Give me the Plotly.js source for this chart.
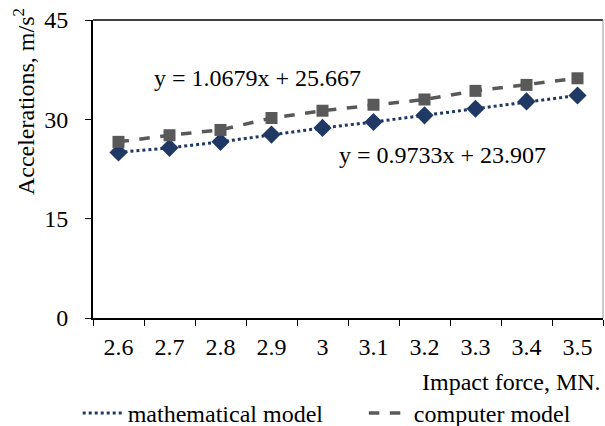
<!DOCTYPE html>
<html>
<head>
<meta charset="utf-8">
<script src="https://cdn.plot.ly/plotly-3.0.1.min.js"></script>
<style>html,body{margin:0;padding:0;background:#fff;}#chart{width:605px;height:426px;}</style>
</head>
<body>
<div id="chart"></div>
<script>
const categories = ['2.6','2.7','2.8','2.9','3','3.1','3.2','3.3','3.4','3.5'];
const mathematicalModel = [25.0, 25.7, 26.6, 27.7, 28.7, 29.6, 30.6, 31.6, 32.7, 33.6];
const computerModel = [26.6, 27.6, 28.4, 30.2, 31.3, 32.2, 33.0, 34.3, 35.2, 36.2];
const yTicks = [0, 15, 30, 45];
const seriesNames = ['mathematical model', 'computer model'];
const trendTexts = ['y = 1.0679x + 25.667', 'y = 0.9733x + 23.907'];
const xTitle = 'Impact force, MN.';
const yTitle = 'Accelerations, m/s<sup>2</sup>';

const FONT = 'Liberation Serif';
const FS = 24;
const NAVY = '#1f3864';
const GREY = '#595959';
const f = () => ({family: FONT, size: FS, color: '#000'});

const data = [
  {x: categories, y: mathematicalModel, type: 'scatter', mode: 'lines+markers', showlegend: false,
   line: {color: NAVY, width: 3, dash: 'dot'}, marker: {symbol: 'diamond', size: 14, color: NAVY}},
  {x: categories, y: computerModel, type: 'scatter', mode: 'lines+markers', showlegend: false,
   line: {color: GREY, width: 3.5, dash: 'dash'}, marker: {symbol: 'square', size: 12, color: GREY}},
  {x: [null], y: [null], type: 'scatter', mode: 'lines', name: seriesNames[0], legend: 'legend',
   line: {color: NAVY, width: 3, dash: 'dot'}},
  {x: [null], y: [null], type: 'scatter', mode: 'lines', name: seriesNames[1], legend: 'legend2',
   line: {color: GREY, width: 3.5, dash: 'dash'}}
];

const legendBase = {orientation: 'h', xanchor: 'left', y: -0.32, yanchor: 'middle',
  font: f(), itemwidth: 40, bgcolor: 'rgba(0,0,0,0)'};

const layout = {
  width: 605, height: 426,
  margin: {l: 93, r: 2, t: 20, b: 108, autoexpand: false},
  paper_bgcolor: '#fff', plot_bgcolor: '#fff',
  font: f(),
  xaxis: {
    type: 'category', range: [-0.5, 9.5], tickson: 'boundaries',
    ticks: 'outside', ticklen: 6, tickcolor: '#000', tickwidth: 1,
    showline: true, linecolor: '#000', linewidth: 2, showgrid: false, zeroline: false,
    tickfont: f(), ticklabelstandoff: 6
  },
  yaxis: {
    range: [0, 45], tickvals: yTicks, ticktext: yTicks.map(v => v + '\u00a0\u00a0'),
    ticks: 'outside', ticklen: 6, tickcolor: '#000', tickwidth: 1,
    showline: true, linecolor: '#000', linewidth: 2, showgrid: false, zeroline: false,
    tickfont: f()
  },
  shapes: [
    {type: 'line', xref: 'paper', yref: 'paper', x0: 0, x1: 1, y0: 1, y1: 1, line: {color: '#000', width: 1.5}},
    {type: 'line', xref: 'paper', yref: 'paper', x0: 1, x1: 1, y0: 0, y1: 1, line: {color: '#999', width: 1}}
  ],
  annotations: [
    {xref: 'paper', yref: 'paper', x: 0.322, y: 0.805, text: trendTexts[0], showarrow: false,
     font: f(), xanchor: 'center', yanchor: 'middle'},
    {xref: 'paper', yref: 'paper', x: 0.686, y: 0.547, text: trendTexts[1], showarrow: false,
     font: f(), xanchor: 'center', yanchor: 'middle'},
    {xref: 'paper', yref: 'paper', x: 1, y: -0.215, text: xTitle, showarrow: false,
     font: f(), xanchor: 'right', yanchor: 'middle'},
    {xref: 'paper', yref: 'paper', x: -0.135, y: 0.725, text: yTitle, showarrow: false, textangle: -90,
     font: f(), xanchor: 'center', yanchor: 'middle'}
  ],
  legend: Object.assign({}, legendBase, {x: -0.03}),
  legend2: Object.assign({}, legendBase, {x: 0.531})
};

Plotly.newPlot('chart', data, layout, {staticPlot: true, displayModeBar: false});
</script>
</body>
</html>
